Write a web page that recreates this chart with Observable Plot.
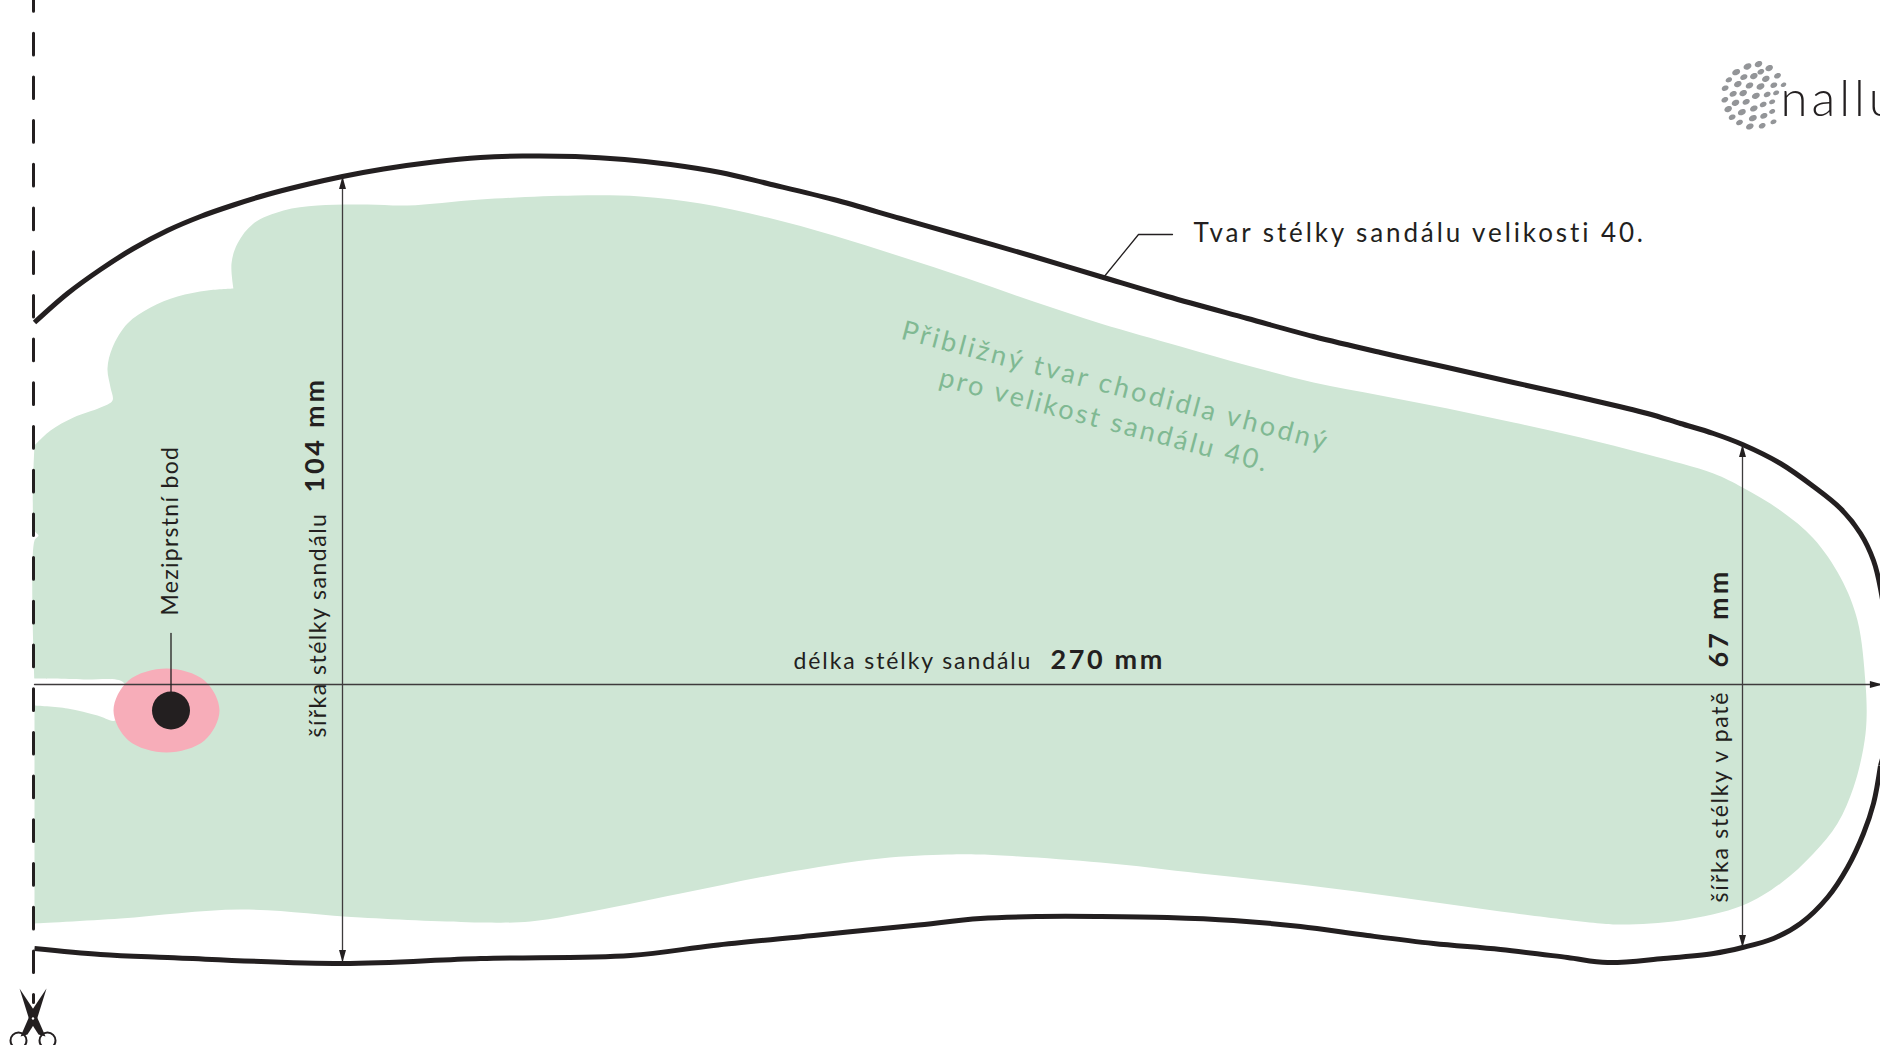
<!DOCTYPE html>
<html><head><meta charset="utf-8">
<script src="https://cdn.jsdelivr.net/npm/d3@7"></script>
<script src="https://cdn.jsdelivr.net/npm/@observablehq/plot@0.6"></script>
<style>html,body{margin:0;padding:0;background:#fff;overflow:hidden}svg{display:block}</style>
</head><body><div id="chart"></div>
<script>
const outlineTop = [[34,322],[67,293],[100,269],[133,248],[167,230],[200,216],[233,204.5],[267,194],[300,185.5],[342,176],[383,168.5],[433,161.5],[480,157],[522,155.5],[575,156],[624,159],[670,164],[720,172],[767,183],[833,199],[900,218],[967,237],[1033,256],[1103,277],[1167,296],[1247,318],[1313,336],[1380,352],[1447,367],[1513,382],[1580,397],[1647,413],[1680,423],[1713,433],[1742,444],[1780,463],[1813,486],[1840,508],[1860,533],[1873,560],[1880,588],[1887,640],[1888,700],[1885,745],[1880,765]];
const outlineBottom = [[1880,765],[1873,803],[1863,833],[1847,867],[1827,897],[1800,923],[1773,938],[1742,947],[1713,953],[1663,958],[1607,962],[1567,957],[1500,949],[1433,943],[1367,935],[1300,926],[1233,920],[1167,917],[1100,916],[1040,916],[980,918],[913,925],[813,935],[713,945],[630,955],[480,958],[342,963],[167,957],[100,954],[34,948]];
const foot = [[34,445],[50,430],[73,417],[100,407],[112,400],[110,387],[107,368],[112,347],[127,323],[150,307],[177,296],[207,290],[233,288],[233,288],[231,263],[237,243],[253,223],[283,210],[317,205],[367,204],[407,205],[480,199],[575,195],[640,196],[700,203],[767,217],[833,235],[900,256],[967,278],[1033,301],[1100,323],[1180,346],[1247,365],[1313,382],[1380,395],[1447,408],[1513,422],[1580,437],[1647,454],[1713,473],[1742,487],[1780,510],[1813,538],[1840,577],[1857,620],[1865,683],[1866,720],[1863,747],[1853,787],[1837,823],[1813,853],[1780,883],[1742,905],[1680,920],[1623,924],[1600,923],[1500,911],[1400,897],[1300,884],[1200,873],[1100,862],[980,854],[947,854],[880,858],[780,873],[680,893],[580,913],[530,921],[480,922],[360,917],[240,909],[120,918],[34,923],[34,923],[34,705],[34,705],[67,708],[97,715],[115,720],[125,700],[123,682],[83,679],[34,678],[34,678],[34,540],[38,535],[34,530],[34,445]];
const blotch = [[166,668],[204,680],[219,710],[204,740],[166,752],[128,740],[113,710],[128,680]];
const cutLine = [[33,-11],[33,1002]];
const leader = [[1103,277],[1138,234],[1172,234]];
const lengthRule = [[34,684],[1880,684]];
const widthRule = [[342,176],[342,962]];
const heelRule = [[1742,444],[1742,947]];
const pointLeader = [[170.5,633],[170.5,700]];
const arrowUp = [[342,176],[1742,444]];
const arrowDown = [[342,962],[1742,947]];
const arrowRight = [[1882,684]];
const bladeA = [[19,988],[33,1009],[38,1020],[45,1036],[38,1034],[29,1020]];
const bladeB = [[46,988],[32,1009],[27,1020],[20,1036],[27,1034],[36,1020]];
const handles = [[18,1040],[47,1040]];
const pivot = [[32.5,1018]];
const logoDots = [[201,78,12],[234,71,11],[266,83,11],[167,95,12],[241,94,9],[291,106,9],[145,118,8],[190,110,10],[220,107,11],[256,115,11],[309,133,6],[172,131,11],[207,135,11],[240,138,12],[280,134,9],[134,143,9],[158,160,10],[188,158,11],[226,166,12],[260,162,9],[287,157,7],[133,178,9],[165,187,11],[197,184,10],[248,192,9],[275,184,7],[143,206,11],[184,215,12],[220,204,11],[275,213,7],[155,230,9],[217,233,12],[250,226,10],[177,246,9],[208,258,11],[245,256,9],[279,244,7]];
const dotPoint = [[170.5,710]];
const tracking = {"nallu":4,"Tvar stélky sandálu velikosti 40.":2.9,"délka stélky sandálu":1.9,"270 mm":2.6,"šířka stélky sandálu":1.5,"104 mm":2.75,"Meziprstní bod":1.3,"šířka stélky v patě":1.7,"67 mm":3.2,"Přibližný tvar chodidla vhodný":2.9,"pro velikost sandálu 40.":2.6};

const dark = "#231f20", thin = "#3e3b3c", green = "#cfe6d5", pink = "#f7adb9", greenText = "#80b993", grey = "#939598";
const FONT = "Lato, 'Noto Sans', sans-serif";
const X = d => d[0], Y = d => d[1];

const head = {draw(c, size){const r = Math.sqrt(size/Math.PI); c.moveTo(0,0); c.lineTo(r*0.58,r*2.1); c.lineTo(-r*0.58,r*2.1); c.closePath();}};
const oval = {draw(c, size){const r = Math.sqrt(size/Math.PI); const a=r*1.2,b=r*0.85,k=0.5523;
  c.moveTo(a,0); c.bezierCurveTo(a,b*k,a*k,b,0,b); c.bezierCurveTo(-a*k,b,-a,b*k,-a,0); c.bezierCurveTo(-a,-b*k,-a*k,-b,0,-b); c.bezierCurveTo(a*k,-b,a,-b*k,a,0); c.closePath();}};

const label = (t, x, y, o={}) => Plot.text([t], {x:()=>x, y:()=>y, text:d=>d, fontSize:23, fill:dark, fontFamily:FONT, textAnchor:"middle", lineAnchor:"middle", ...o});

const chart = Plot.plot({
  width:1880, height:1045, margin:0,
  x:{type:"linear", domain:[0,1880], range:[0,1880], axis:null},
  y:{type:"linear", domain:[0,1045], range:[0,1045], axis:null},
  style:{background:"#fff"},
  marks:[
    Plot.line(foot, {x:X, y:Y, fill:green, stroke:"none", curve:"catmull-rom"}),
    Plot.line(blotch, {x:X, y:Y, fill:pink, stroke:"none", curve:"catmull-rom-closed"}),
    Plot.line(lengthRule, {x:X, y:Y, stroke:thin, strokeWidth:1.3}),
    Plot.line(widthRule, {x:X, y:Y, stroke:thin, strokeWidth:1.3}),
    Plot.line(heelRule, {x:X, y:Y, stroke:thin, strokeWidth:1.3}),
    Plot.dot(arrowUp, {x:X, y:Y, symbol:head, r:6, fill:dark, stroke:"none"}),
    Plot.dot(arrowDown, {x:X, y:Y, symbol:head, r:6, fill:dark, stroke:"none", rotate:180}),
    Plot.dot(arrowRight, {x:X, y:Y, symbol:head, r:6, fill:dark, stroke:"none", rotate:90}),
    Plot.line(cutLine, {x:X, y:Y, stroke:dark, strokeWidth:3, strokeDasharray:"21.7 22"}),
    Plot.line(outlineTop, {x:X, y:Y, stroke:dark, strokeWidth:5, curve:"catmull-rom", strokeLinecap:"butt"}),
    Plot.line(outlineBottom, {x:X, y:Y, stroke:dark, strokeWidth:5, curve:"catmull-rom", strokeLinecap:"butt"}),
    Plot.line(leader, {x:X, y:Y, stroke:dark, strokeWidth:1.3, strokeLinejoin:"miter"}),
    Plot.line(pointLeader, {x:X, y:Y, stroke:dark, strokeWidth:1.3}),
    Plot.dot(dotPoint, {x:X, y:Y, r:19, fill:dark, stroke:"none"}),
    Plot.line(bladeA, {x:X, y:Y, fill:dark, stroke:"none"}),
    Plot.line(bladeB, {x:X, y:Y, fill:dark, stroke:"none"}),
    Plot.dot(pivot, {x:X, y:Y, r:1.2, fill:"#fff", stroke:"none"}),
    Plot.dot(handles, {x:X, y:Y, r:8, stroke:dark, strokeWidth:2, fill:"none"}),
    Plot.dot(logoDots, {x:d=>1680+d[0]/3, y:d=>40+d[1]/3, r:d=>d[2]*0.5, symbol:oval, rotate:-25, fill:grey, stroke:"none"}),
    label("nallu", 1780, 115, {fontSize:49, textAnchor:"start", lineAnchor:"bottom", fontWeight:300}),
    label("Tvar stélky sandálu velikosti 40.", 1193, 233, {fontSize:26, textAnchor:"start"}),
    label("délka stélky sandálu", 793, 661, {textAnchor:"start"}),
    label("270 mm", 1050, 660, {fontSize:27, textAnchor:"start", fontWeight:700}),
    label("šířka stélky sandálu", 318, 737, {rotate:-90, textAnchor:"start"}),
    label("104 mm", 315, 492, {rotate:-90, textAnchor:"start", fontSize:27, fontWeight:700}),
    label("Meziprstní bod", 170, 615, {rotate:-90, textAnchor:"start"}),
    label("šířka stélky v patě", 1720, 902, {rotate:-90, textAnchor:"start"}),
    label("67 mm", 1719, 667, {rotate:-90, textAnchor:"start", fontSize:27, fontWeight:700}),
    label("Přibližný tvar chodidla vhodný", 1115, 386, {rotate:14.8, fontSize:27, fill:greenText}),
    label("pro velikost sandálu 40.", 1104, 420, {rotate:14.8, fontSize:27, fill:greenText})
  ]
});
chart.querySelectorAll("text").forEach(t => { const s = tracking[t.textContent]; if (s != null) t.style.letterSpacing = s + "px"; });
document.getElementById("chart").append(chart);
</script></body></html>
